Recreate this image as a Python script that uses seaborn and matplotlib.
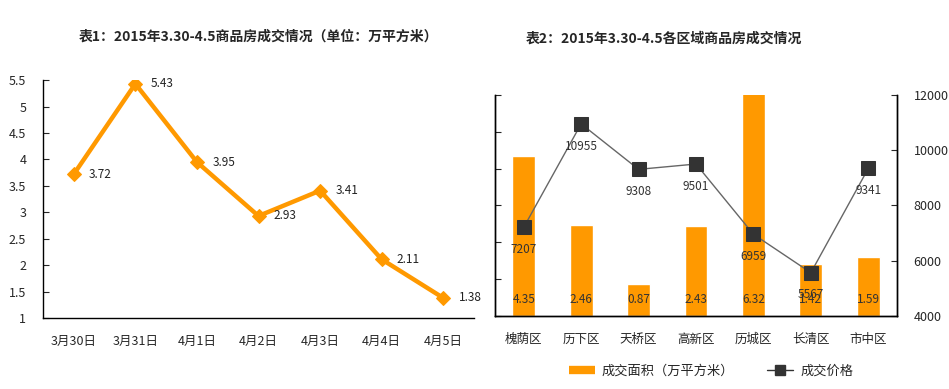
import numpy as np
import pandas as pd
import matplotlib.pyplot as plt
from matplotlib.lines import Line2D
import seaborn as sns

# chart 1 data
dates = ["3月30日", "3月31日", "4月1日", "4月2日", "4月3日", "4月4日", "4月5日"]
area_total = [3.72, 5.43, 3.95, 2.93, 3.41, 2.11, 1.38]

# chart 2 data
districts = ["槐荫区", "历下区", "天桥区", "高新区", "历城区", "长清区", "市中区"]
district_area = [4.35, 2.46, 0.87, 2.43, 6.32, 1.42, 1.59]
district_price = [7207, 10955, 9308, 9501, 6959, 5567, 9341]

ORANGE = "#FF9900"

sns.set_style("white")
plt.rcParams["font.family"] = ["Noto Sans CJK SC", "DejaVu Sans"]
plt.rcParams["axes.linewidth"] = 1.0

fig = plt.figure(figsize=(9.49, 3.89), dpi=100)
ax1 = fig.add_axes([0.0453, 0.1825, 0.4542, 0.6115])
ax2 = fig.add_axes([0.5216, 0.1877, 0.4236, 0.5681])

# ---- left chart
df1 = pd.DataFrame({"pos": np.arange(len(dates)), "val": area_total})
sns.lineplot(data=df1, x="pos", y="val", ax=ax1, color=ORANGE, lw=3.2,
             marker="D", markersize=7, markeredgecolor=ORANGE)
for x, v in zip(df1["pos"], df1["val"]):
    ax1.annotate(f"{v:.2f}", (x, v), xytext=(11, 0), textcoords="offset points",
                 va="center", ha="left", fontsize=8.5, color="#222")
ax1.set_xlim(-0.5, len(dates) - 0.5)
ax1.set_ylim(1, 5.5)
ax1.set_yticks(np.arange(1, 5.51, 0.5))
ax1.set_yticklabels([f"{t:g}" for t in np.arange(1, 5.51, 0.5)])
ax1.set_xticks(df1["pos"])
ax1.set_xticklabels(dates)
ax1.set_xticks(np.arange(0.5, len(dates), 1), minor=True)
ax1.tick_params(axis="x", which="major", length=0, pad=12, labelsize=9)
ax1.tick_params(axis="x", which="minor", length=4, direction="in")
ax1.tick_params(axis="y", length=4, direction="in", labelsize=9, pad=12, left=True)
ax1.set_xlabel("")
ax1.set_ylabel("")
for s in ["top", "right"]:
    ax1.spines[s].set_visible(False)
for s in ["left", "bottom"]:
    ax1.spines[s].set_color("black")
fig.text(0.272, 0.905, "表1：2015年3.30-4.5商品房成交情况（单位：万平方米）",
         ha="center", va="center", fontsize=10, fontweight="bold")

# ---- right chart
df2 = pd.DataFrame({"district": districts, "area": district_area,
                    "price": district_price, "pos": np.arange(len(districts))})
sns.barplot(data=df2, x="district", y="area", ax=ax2, color=ORANGE,
            width=0.4, saturation=1)
ax2.set_ylim(0, 6)
ax2.set_yticks(np.arange(0, 7, 1))
ax2.set_yticklabels([])
ax2.set_xlim(-0.5, len(districts) - 0.5)
for x, v in zip(df2["pos"], df2["area"]):
    ax2.text(x, 0.45, f"{v:.2f}", ha="center", va="center", fontsize=8.5, color="#333")
ax2.set_xticks(np.arange(0.5, len(districts) - 1, 1), minor=True)
ax2.tick_params(axis="x", which="major", length=0, pad=12, labelsize=9)
ax2.tick_params(axis="x", which="minor", length=4, direction="in")
ax2.tick_params(axis="y", length=4, direction="in", left=True)
ax2.set_xlabel("")
ax2.set_ylabel("")
ax2.spines["top"].set_visible(False)

ax3 = ax2.twinx()
sns.lineplot(data=df2, x="pos", y="price", ax=ax3, color="#666666", lw=1.0,
             marker="s", markersize=10, markerfacecolor="#333333",
             markeredgecolor="#333333")
for x, v in zip(df2["pos"], df2["price"]):
    ax3.annotate(f"{v}", (x, v), xytext=(0, -16), textcoords="offset points",
                 ha="center", va="center", fontsize=8.5, color="#333")
ax3.set_ylim(4000, 12000)
ax3.set_yticks(np.arange(4000, 12001, 2000))
ax3.tick_params(axis="y", length=4, direction="in", labelsize=9, pad=12, right=True)
ax3.set_xlim(-0.5, len(districts) - 0.5)
ax3.set_xlabel("")
ax3.set_ylabel("")
ax3.spines["top"].set_visible(False)
for a in (ax2, ax3):
    for s in ["left", "bottom", "right"]:
        a.spines[s].set_color("black")

fig.text(0.7, 0.9, "表2：2015年3.30-4.5各区域商品房成交情况",
         ha="center", va="center", fontsize=10, fontweight="bold")

handles = [Line2D([0], [0], color=ORANGE, lw=6, solid_capstyle="butt"),
           Line2D([0], [0], color="#333333", lw=1, marker="s", markersize=7)]
fig.legend(handles, ["成交面积（万平方米）", "成交价格"], loc="center",
           bbox_to_anchor=(0.749, 0.045), ncol=2, frameon=False, fontsize=9.5,
           handlelength=2.0, handletextpad=0.5, columnspacing=2.5)

fig.savefig("out.png", dpi=100)
